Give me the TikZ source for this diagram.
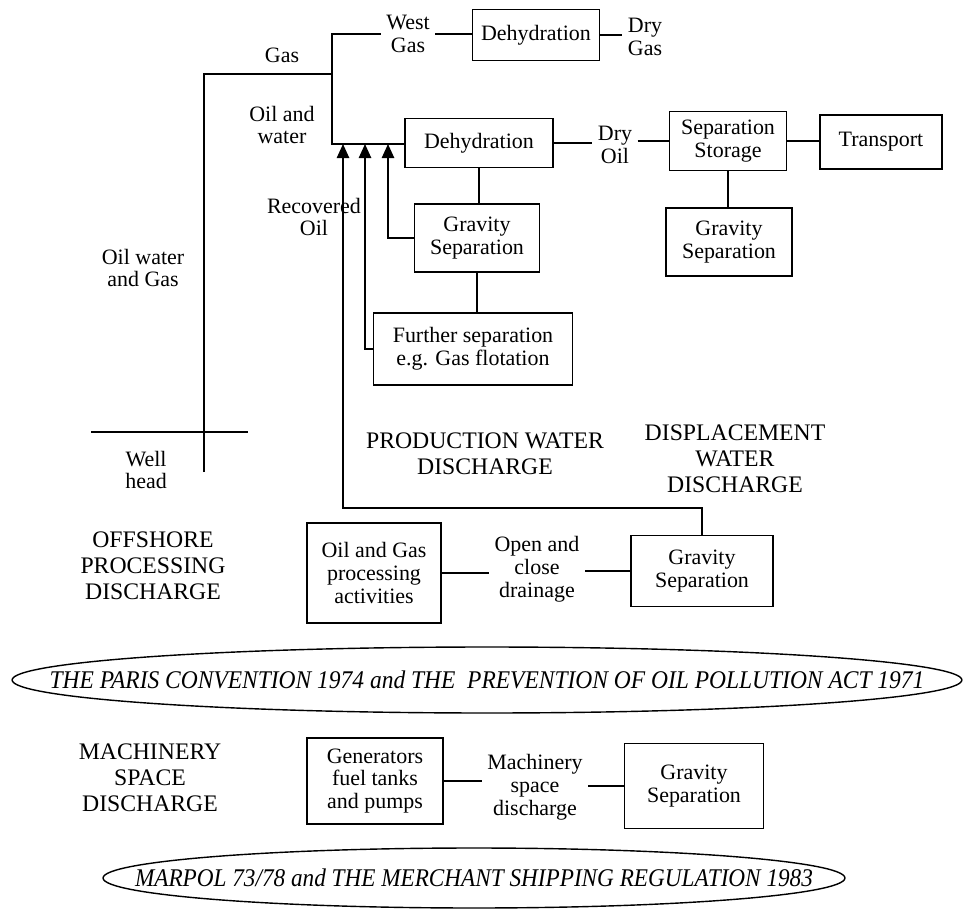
\documentclass[tikz,border=0pt]{standalone}
\usepackage{graphicx}
\usepackage{fontspec}
\setmainfont{Liberation Serif}
\usetikzlibrary{arrows.meta,shapes.geometric}

\tikzset{
  box/.style={draw, line width=1pt, align=center, inner sep=2pt,
    font=\fontsize{12.5}{13}\selectfont},
  lbl/.style={align=center, inner sep=3pt, font=\fontsize{12.5}{13}\selectfont},
  head/.style={align=center, font=\fontsize{13.5}{14.8}\selectfont},
  law/.style={draw, ellipse, line width=0.8pt, inner sep=0pt},
  lawtext/.style={font=\fontsize{14.5}{16}\selectfont\itshape},
  link/.style={line width=1pt},
  feed/.style={line width=1pt, -{Triangle[width=7pt,length=8pt]}},
}

\begin{document}
\begin{tikzpicture}[x=0.02cm, y=-0.02cm]
  \useasboundingbox (0,0) rectangle (965,910);

  % well head
  \coordinate (wellTop) at (204,74);
  \coordinate (wellBot) at (204,472);
  \coordinate (barL) at (91,432);
  \coordinate (barR) at (248,432);
  \coordinate (split) at (332,74);
  \coordinate (oilIn) at (332,144);

  % gas line
  \node[lbl] (westgas) at (408,34) {West\\Gas};
  \node[box, minimum width=2.54cm, minimum height=1.02cm] (dehyA) at (536,35) {Dehydration};
  \node[lbl] (drygas) at (645,37) {Dry\\Gas};

  % oil line
  \node[box, minimum width=2.96cm, minimum height=0.98cm] (dehyB) at (479,143) {Dehydration};
  \node[lbl] (dryoil) at (615,145) {Dry\\Oil};
  \node[box, minimum width=2.34cm, minimum height=1.18cm] (sepstore) at (728,141) {Separation\\Storage};
  \node[box, minimum width=2.44cm, minimum height=1.08cm] (transport) at (881,142) {Transport};
  \node[box, minimum width=2.52cm, minimum height=1.36cm] (gravR) at (729,242) {Gravity\\Separation};
  \node[box, minimum width=2.5cm, minimum height=1.36cm] (gravM) at (477,238) {Gravity\\Separation};
  \node[box, minimum width=3.98cm, minimum height=1.44cm] (further) at (473,349) {Further separation\\e.g. Gas flotation};

  % labels
  \node[lbl] (gas) at (282,55) {Gas};
  \node[lbl] (oilwater) at (282,125) {Oil and\\water};
  \node[lbl] (recovered) at (314,217) {Recovered\\Oil};
  \node[lbl] (mixed) at (143,268) {Oil water\\and Gas};
  \node[lbl] (wellhead) at (146,470) {Well\\head};
  \node[head] (production) at (485,454) {PRODUCTION WATER\\DISCHARGE};
  \node[head] (displacement) at (735,459) {DISPLACEMENT\\WATER\\DISCHARGE};
  \node[head] (offshore) at (153,566) {OFFSHORE\\PROCESSING\\DISCHARGE};

  % drainage line
  \node[box, minimum width=2.68cm, minimum height=2cm] (oilgas) at (374,573) {Oil and Gas\\processing\\activities};
  \node[lbl] (drainage) at (537,569) {Open and\\close\\drainage};
  \node[box, minimum width=2.84cm, minimum height=1.42cm] (gravD) at (702,571) {Gravity\\Separation};

  % arrow tips
  \coordinate (tipA) at (343,144);
  \coordinate (tipB) at (365,144);
  \coordinate (tipC) at (388,144);
  \coordinate (recov) at (343,508);

  % legislation
  \node[law, minimum width=19cm, minimum height=1.32cm] (paris) at (487,680) {};
  \node[lawtext] (paristext) at (paris.center) {\resizebox{17.5cm}{\height}{THE PARIS CONVENTION 1974 and THE\ \ PREVENTION OF OIL POLLUTION ACT 1971}};

  % machinery line
  \node[head] (machinery) at (150,778) {MACHINERY\\SPACE\\DISCHARGE};
  \node[box, minimum width=2.72cm, minimum height=1.72cm] (gen) at (375,781) {Generators\\fuel tanks\\and pumps};
  \node[lbl] (msd) at (535,787) {Machinery\\space\\discharge};
  \node[box, minimum width=2.78cm, minimum height=1.7cm] (gravB) at (694,786) {Gravity\\Separation};

  \node[law, minimum width=14.84cm, minimum height=1.2cm] (marpol) at (474,878) {};
  \node[lawtext] (marpoltext) at (marpol.center) {\resizebox{13.56cm}{\height}{MARPOL 73/78 and THE MERCHANT SHIPPING REGULATION 1983}};

  % connectors
  \draw[link] (wellBot) -- (wellTop) -- (split);
  \draw[link] (barL) -- (barR);
  \draw[link] (westgas.west) -| (oilIn) -- (oilIn -| dehyB.west);
  \draw[link] (westgas.east) -- (westgas.east -| dehyA.west);
  \draw[link] (dehyA.east) -- (dehyA.east -| drygas.west);
  \draw[link] (dehyB.east) -- (dehyB.east -| dryoil.west);
  \draw[link] (dryoil.east |- sepstore.west) -- (sepstore.west);
  \draw[link] (sepstore.east) -- (sepstore.east -| transport.west);
  \draw[link] (sepstore.south) -- (sepstore.south |- gravR.north);
  \draw[link] (dehyB.south) -- (dehyB.south |- gravM.north);
  \draw[link] (gravM.south) -- (gravM.south |- further.north);
  \draw[feed] (gravM.west) -| (tipC);
  \draw[feed] (further.west) -| (tipB);
  \draw[feed] (gravD.north) |- (recov) -- (tipA);
  \draw[link] (oilgas.east) -- (oilgas.east -| drainage.west);
  \draw[link] (drainage.east |- gravD.west) -- (gravD.west);
  \draw[link] (gen.east) -- (gen.east -| msd.west);
  \draw[link] (msd.east |- gravB.west) -- (gravB.west);
\end{tikzpicture}
\end{document}
